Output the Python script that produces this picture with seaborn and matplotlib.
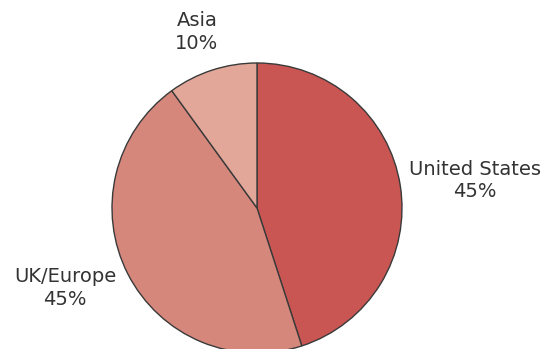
import matplotlib
matplotlib.use("Agg")
import matplotlib.pyplot as plt
import seaborn as sns

regions = ["United States", "UK/Europe", "Asia"]
shares = [45, 45, 10]
colors = ["#C95652", "#D6877C", "#E3A799"]

sns.set_theme(style="white")
plt.rcParams['font.family'] = ['DejaVu Sans']

fig = plt.figure(figsize=(5.44, 3.49), dpi=100)
ax = fig.add_axes([0, 0, 1, 1])
wedges, _ = ax.pie(shares, colors=colors, startangle=90, counterclock=False,
                   radius=1.0, center=(0, 0),
                   wedgeprops=dict(edgecolor="#3a3a3a", linewidth=1.0))
ax.set_aspect('auto')
ax.set_xlim(-257/145, (544-257)/145)
ax.set_ylim(-141/145, (349-141)/145)
ax.axis('off')

label_pos = [(1.505, 0.19), (-1.324, -0.552), (-0.414, 1.214)]
for name, val, (x, y) in zip(regions, shares, label_pos):
    ax.text(x, y, f"{name}\n{val}%", ha='center', va='center', fontsize=14,
            color='#333333', linespacing=1.25)

fig.savefig("out.png", dpi=100)
